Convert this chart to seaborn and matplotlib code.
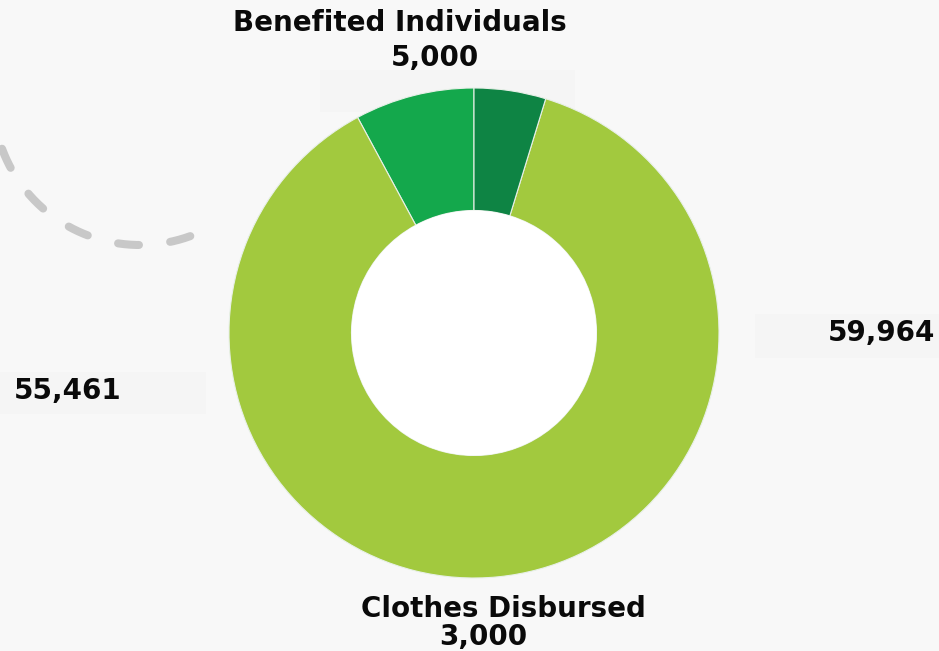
import numpy as np
import seaborn as sns
import matplotlib as mpl
mpl.use('Agg')
import matplotlib.pyplot as plt
from matplotlib.patches import Circle, Rectangle

# slice data (counter-clockwise from the top)
slice_names = ["Benefited Individuals", "Other", "Clothes Disbursed"]
slice_values = [5000, 55461, 3000]
slice_colors = ["#14a84c", "#a2c93e", "#0e8444"]

# text labels
top_title = "Benefited Individuals"
top_value = "5,000"
right_value = "59,964"
left_value = "55,461"
bottom_title = "Clothes Disbursed"
bottom_value = "3,000"

W, H = 939, 651
BG = "#f8f8f8"

sns.set_theme(style="white")
plt.rcParams['font.family'] = ['DejaVu Sans']

fig = plt.figure(figsize=(W / 100, H / 100), dpi=100, facecolor=BG)

# overlay in pixel coordinates for decoration and text
bg = fig.add_axes([0, 0, 1, 1], zorder=0)
bg.set_xlim(0, W)
bg.set_ylim(H, 0)
bg.axis('off')

# dashed decorative arc
cx, cy, r = 140, 98, 147
t = np.radians(np.linspace(290, 196, 200))
bg.plot(cx + r * np.cos(t), cy - r * np.sin(t), color="#c8c8c8", lw=5.8,
        ls=(0, (2.6, 3.9)), solid_capstyle='round', dash_capstyle='round')

# faint label boxes
for (x0, y0, w, h) in [(320, 70, 255, 42), (755, 314, 184, 44), (0, 372, 206, 42)]:
    bg.add_patch(Rectangle((x0, y0), w, h, facecolor="#f5f5f5", edgecolor='none'))

# donut
R = 245
ccx, ccy = 474, 333
ax = fig.add_axes([(ccx - R) / W, (H - ccy - R) / H, 2 * R / W, 2 * R / H], zorder=1)
ax.pie(slice_values, colors=slice_colors, startangle=90, counterclock=True,
       radius=1.0, wedgeprops=dict(width=0.5, edgecolor="#e8f0e8", linewidth=0.8))
ax.add_patch(Circle((0, 0), 0.5, facecolor="white", edgecolor='none', zorder=3))
ax.set_xlim(-1, 1)
ax.set_ylim(-1, 1)
ax.set_aspect('equal')
ax.axis('off')

fs = 20
kw = dict(fontsize=fs, fontweight='bold', color="#0a0a0a", zorder=5)
bg.text(400, 23, top_title, ha='center', va='center', **kw)
bg.text(435, 58, top_value, ha='center', va='center', **kw)
bg.text(935, 333, right_value, ha='right', va='center', **kw)
bg.text(14, 391, left_value, ha='left', va='center', **kw)
bg.text(503, 609, bottom_title, ha='center', va='center', **kw)
bg.text(483, 637, bottom_value, ha='center', va='center', **kw)

fig.savefig("out.png", dpi=100, facecolor=BG)
